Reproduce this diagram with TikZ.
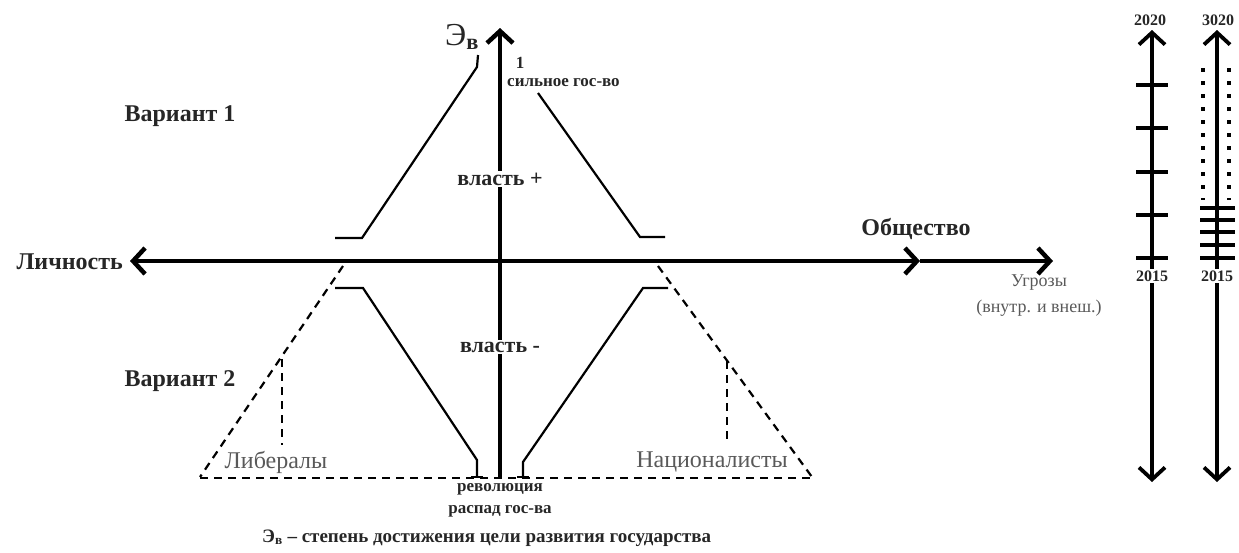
\documentclass[tikz,border=0pt]{standalone}
\usepackage{fontspec}
\setmainfont{Liberation Serif}
\usetikzlibrary{arrows.meta}
\begin{document}
\begin{tikzpicture}[x=1pt,y=-1pt,
  lbl/.style={font=\fontsize{24}{26}\selectfont\bfseries, text=black!85, inner sep=1pt},
  mid/.style={font=\fontsize{22}{24}\selectfont\bfseries, text=black!85, inner sep=2pt, fill=white},
  small/.style={font=\fontsize{17}{19}\selectfont\bfseries, text=black!85, inner sep=1pt},
  grey/.style={font=\fontsize{24}{26}\selectfont, text=black!65, inner sep=1pt},
  greys/.style={font=\fontsize{18}{20}\selectfont, text=black!65, inner sep=1pt},
  yr/.style={font=\fontsize{16}{18}\selectfont\bfseries, text=black!85, inner sep=1.5pt},
  axis/.style={line width=4.5pt},
  tl/.style={line width=3.8pt},
  edge/.style={line width=2.2pt},
  dsh/.style={line width=2.2pt, dash pattern=on 8pt off 6pt},
  dotl/.style={line width=4pt, dash pattern=on 4pt off 9pt},
  barb/.tip={Straight Barb[length=12pt,width=26pt]}
]
\useasboundingbox (0,0) rectangle (1239,552);

% main axes
\coordinate (Ltip) at (130,261);
\coordinate (Mtip) at (920,261);
\coordinate (Rtip) at (1053,261);
\coordinate (Vbot) at (500,477);
\coordinate (Vtop) at (500,28);
\draw[axis,{barb}-{barb}] (Ltip) -- (Mtip);
\draw[axis,-{barb}] (Mtip) -- (Rtip);
\draw[axis,-{barb}] (Vbot) -- (Vtop);

\node[mid] (vp) at (500,179) {власть +};
\node[mid] (vm) at (500,347) {власть -};

% upper variant
\draw[edge] (335,238) -- (362,238) -- (477,67) -- (478,55);
\draw[edge] (538,93) -- (640,237) -- (665,237);
% lower variant
\draw[edge] (335,288) -- (363,288) -- (477,460) -- (477,477);
\draw[edge] (471,477) -- (483,477);
\draw[edge] (668,288) -- (643,288) -- (523,462) -- (523,477);
\draw[edge] (517,477) -- (529,477);

% dashed triangle
\draw[dsh] (343,266) -- (200,477);
\draw[dsh] (658,266) -- (812,477);
\draw[dsh] (200,478) -- (812,478);
\draw[dsh] (282,359) -- (282,445);
\draw[dsh] (727,361) -- (727,442);

% labels
\node[lbl,anchor=east] (lich) at (124,262) {Личность};
\node[lbl] (obsh) at (916,229) {Общество};
\node[lbl] (v1) at (180,116) {Вариант 1};
\node[lbl] (v2) at (180,381) {Вариант 2};
\node[small,anchor=west] (sg) at (506,83) {сильное гос-во};
\node[small] (one) at (520,63) {1};
\node[font=\fontsize{32}{34}\selectfont, text=black!85, inner sep=0pt] (E) at (462,37) {Э\textsubscript{\bfseries в}};
\node[greys] (ugr) at (1039,283) {Угрозы};
\node[greys] (vn) at (1039,308) {(внутр. и внеш.)};
\node[grey] (lib) at (276,462) {Либералы};
\node[grey] (nat) at (712,462) {Националисты};
\node[small] (rev) at (500,489) {революция};
\node[small] (ras) at (500,511) {распад гос-ва};
\node[font=\fontsize{19}{21}\selectfont\bfseries, text=black!85, anchor=west, inner sep=0pt] (foot) at (262,538) {Э\textsubscript{в} -- степень достижения цели развития государства};

% timeline 1
\coordinate (T1b) at (1152,482);
\coordinate (T1t) at (1152,30);
\draw[tl,{barb}-{barb}] (T1b) -- (T1t);
\foreach \y in {85,128,172,215,258} \draw[tl] (1136,\y) -- (1168,\y);
\node[yr,fill=white] (y1b) at (1152,276) {2015};
\node[yr] (y1t) at (1150,20) {2020};

% timeline 2
\coordinate (T2b) at (1217,482);
\coordinate (T2t) at (1217,30);
\draw[tl,{barb}-{barb}] (T2b) -- (T2t);
\draw[dotl] (1203,68) -- (1203,200);
\draw[dotl] (1229,68) -- (1229,200);
\foreach \y in {208,220,232,245,258} \draw[tl] (1200,\y) -- (1235,\y);
\node[yr,fill=white] (y2b) at (1217,276) {2015};
\node[yr] (y2t) at (1218,20) {3020};
\end{tikzpicture}
\end{document}
